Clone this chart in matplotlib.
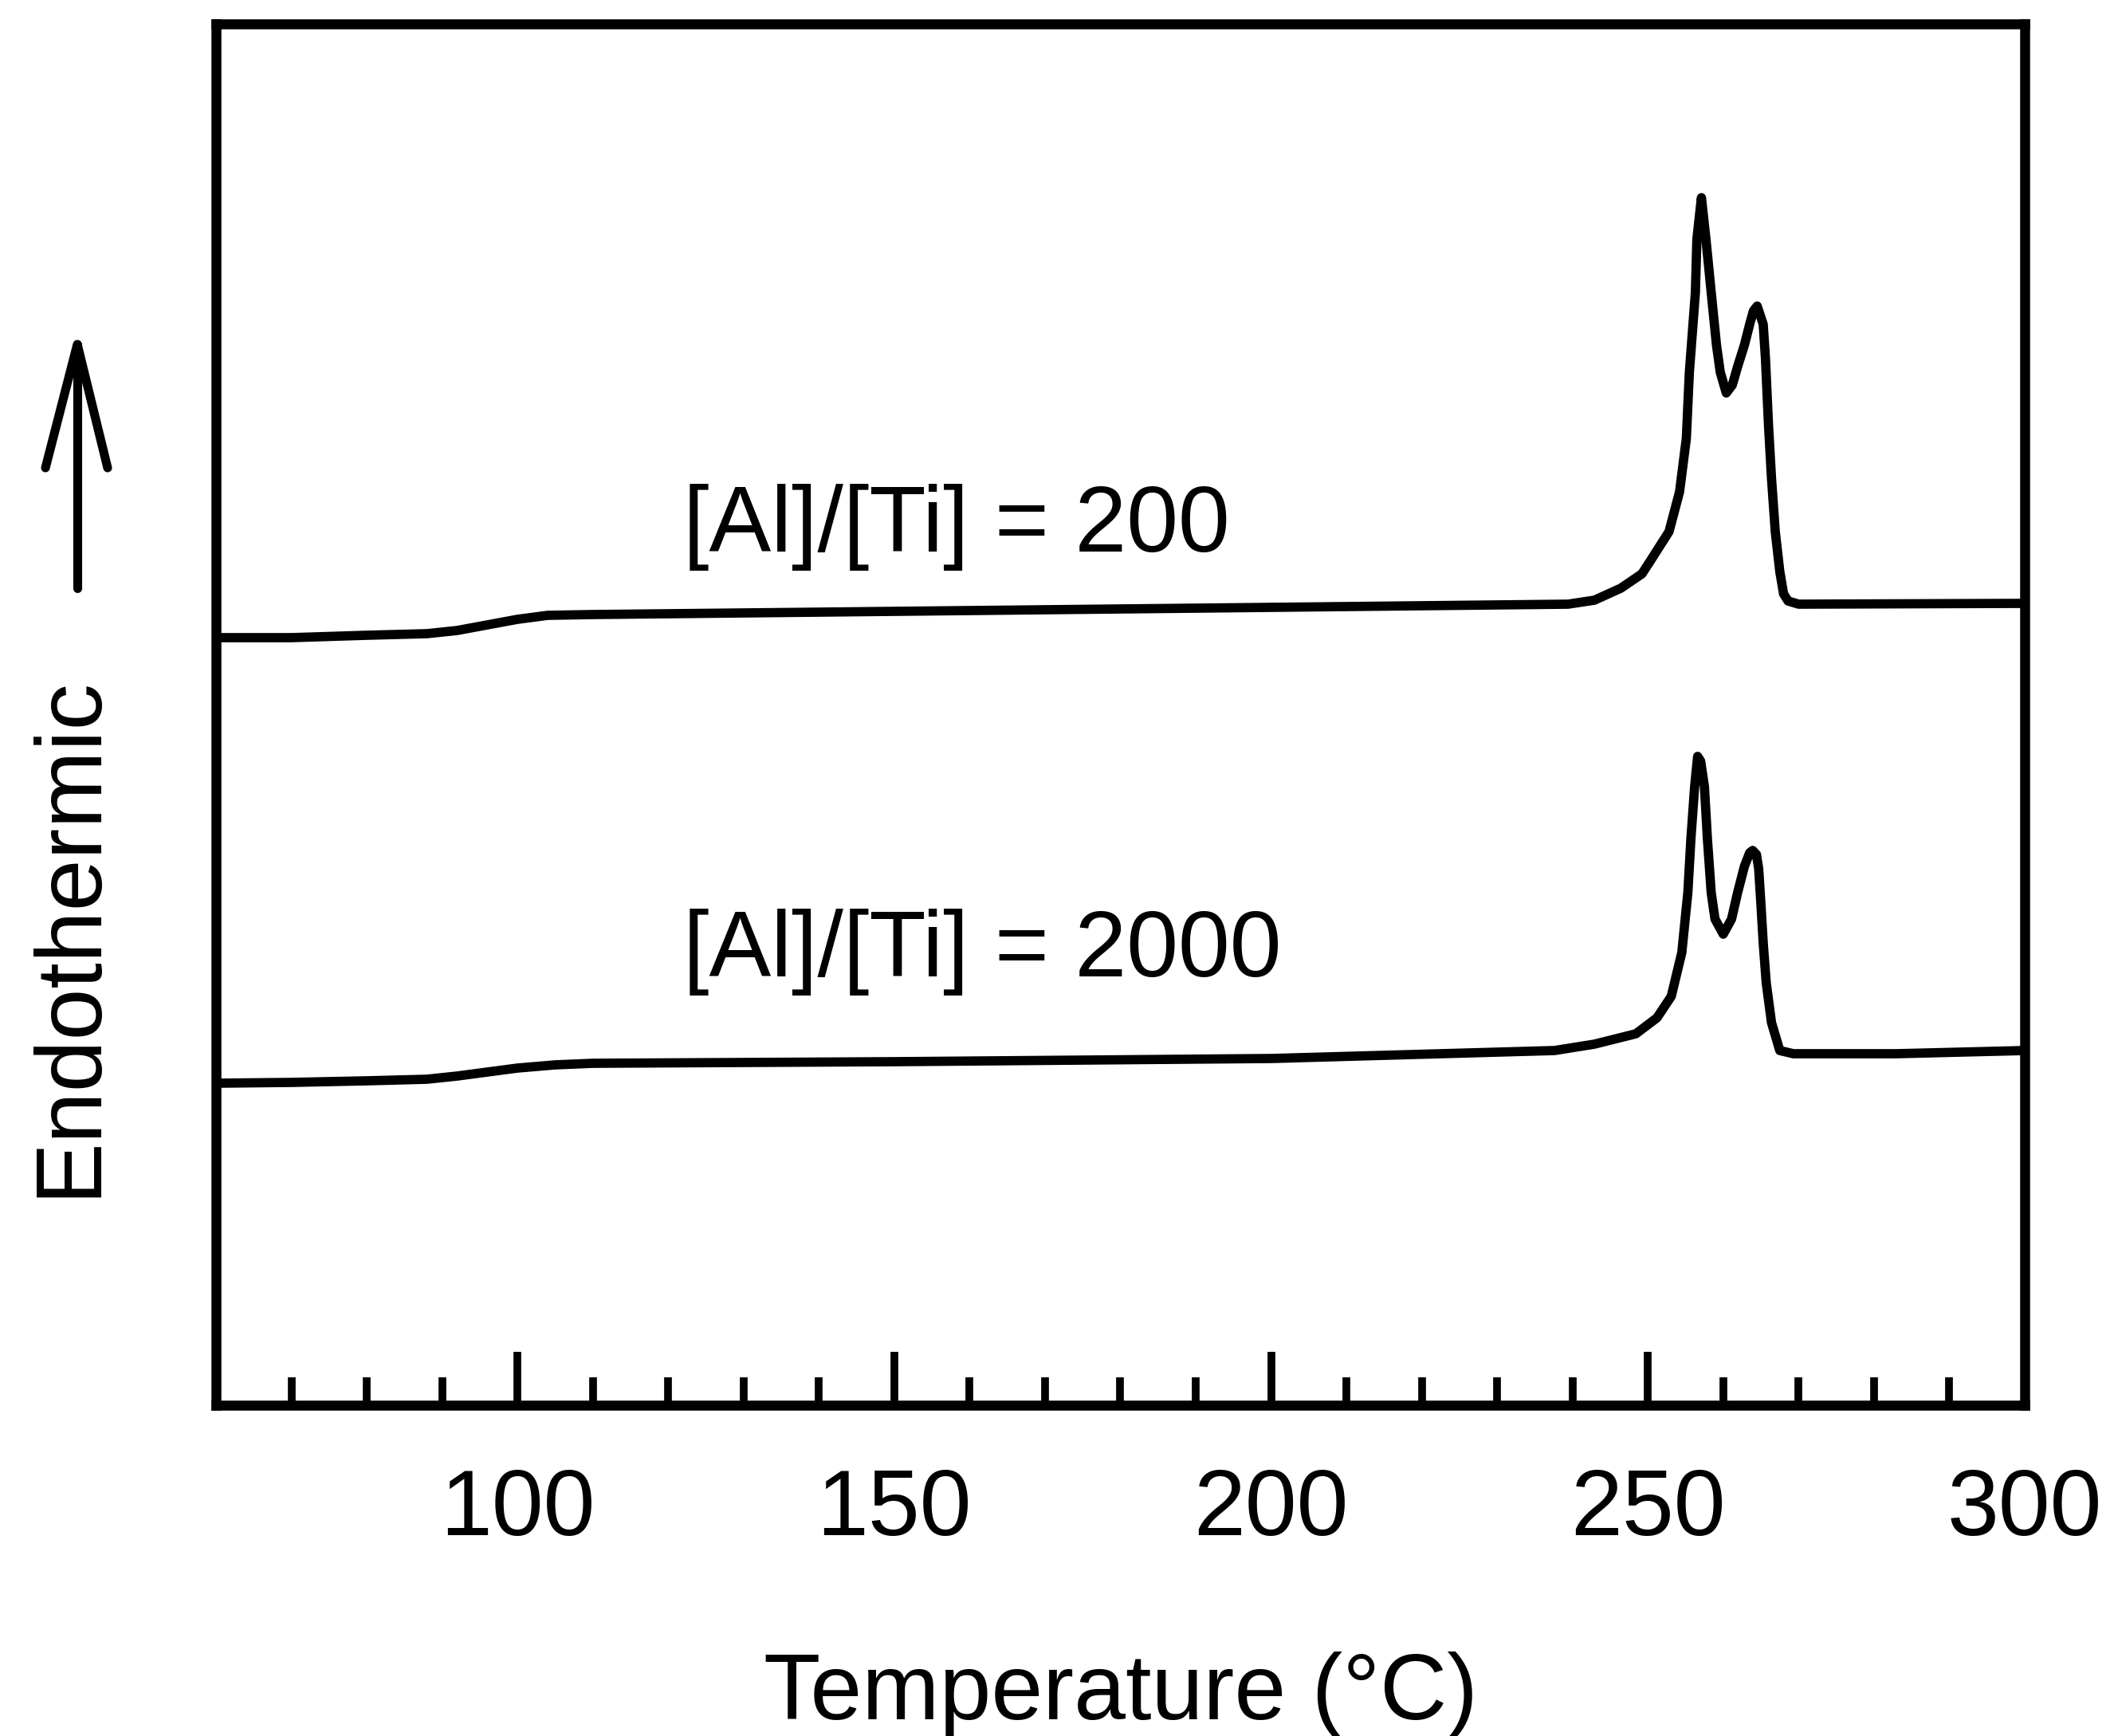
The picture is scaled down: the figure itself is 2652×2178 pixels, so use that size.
import matplotlib
matplotlib.use("Agg")
import matplotlib.pyplot as plt
from matplotlib.lines import Line2D
from matplotlib.ticker import MultipleLocator

plt.rcParams['font.family'] = ['Liberation Sans', 'DejaVu Sans']

# DSC traces (heat flow in arbitrary units)
temp_200 = [60, 70, 80, 88, 92, 96, 100, 104, 110, 150, 200, 239.4, 242.9,
            246.4, 249.2, 250.1, 252.8, 254.2, 255.1, 255.5, 256.3, 256.5,
            257.1, 257.7, 258.4, 259.1, 259.6, 260.4, 261.2, 261.9, 262.8,
            263.5, 264.0, 264.5, 265.3, 265.6, 266.0, 266.4, 266.9, 267.5,
            268.0, 268.6, 270, 300]
dsc_200 = [9.63, 9.63, 9.66, 9.68, 9.72, 9.79, 9.86, 9.91, 9.92, 9.96, 10.01,
           10.05, 10.10, 10.25, 10.43, 10.56, 10.96, 11.46, 12.13, 12.96, 13.96,
           14.63, 15.15, 14.63, 13.96, 13.30, 12.96, 12.70, 12.80, 13.03, 13.30,
           13.56, 13.73, 13.79, 13.56, 13.13, 12.30, 11.63, 10.96, 10.46, 10.18,
           10.09, 10.05, 10.06]

temp_2000 = [60, 70, 80, 88, 92, 96, 100, 105, 110, 150, 200, 237.6, 242.9,
             248.4, 251.2, 253.1, 254.5, 255.3, 255.7, 256.2, 256.6, 257.0,
             257.5, 257.9, 258.4, 258.9, 260.0, 261.1, 261.9, 262.8, 263.5,
             263.9, 264.4, 264.7, 265.0, 265.3, 265.7, 266.4, 267.5, 269.3,
             283, 300]
dsc_2000 = [4.04, 4.05, 4.07, 4.09, 4.13, 4.18, 4.23, 4.27, 4.29, 4.31, 4.35,
            4.45, 4.53, 4.66, 4.86, 5.13, 5.68, 6.43, 7.10, 7.76, 8.14, 8.08,
            7.76, 7.10, 6.43, 6.10, 5.91, 6.10, 6.43, 6.76, 6.93, 6.96, 6.91,
            6.73, 6.28, 5.80, 5.30, 4.80, 4.45, 4.41, 4.41, 4.45]

labels = ['[Al]/[Ti] = 200', '[Al]/[Ti] = 2000']
label_pos = [(122.0, 10.71), (122.0, 5.38)]

W, H = 2652, 2178
fig = plt.figure(figsize=(W / 200, H / 200), dpi=200)
ax = fig.add_axes([271 / W, 1 - 1763 / H, (2540 - 271) / W, (1763 - 30) / H])

ax.plot(temp_200, dsc_200, color='black', lw=4.2, solid_joinstyle='round')
ax.plot(temp_2000, dsc_2000, color='black', lw=4.2, solid_joinstyle='round')

for txt, (x, y) in zip(labels, label_pos):
    ax.text(x, y, txt, fontsize=42, ha='left', va='baseline')

ax.set_xlim(60, 300)
ax.set_ylim(0, 17.33)
ax.set_yticks([])
ax.xaxis.set_major_locator(MultipleLocator(50))
ax.xaxis.set_minor_locator(MultipleLocator(10))
ax.tick_params(axis='x', which='both', direction='in', width=3.5,
               labelsize=42, pad=28)
ax.tick_params(axis='x', which='major', length=24)
ax.tick_params(axis='x', which='minor', length=12.6)
for s in ax.spines.values():
    s.set_linewidth(4.5)

fig.text(0.5 * (271 + 2540) / W, 1 - 2157 / H, 'Temperature (°C)',
         fontsize=42, ha='center', va='baseline')
fig.text(88 / W, 1 - 1175 / H, 'Endothermic', fontsize=42, rotation=90,
         ha='center', va='center')

# "endothermic up" arrow beside the y label
ax_x = 97 / W
tip_y = 1 - 432 / H
wing_y = 1 - 587 / H
for xs, ys in [([ax_x, ax_x], [1 - 738 / H, tip_y]),
               ([57 / W, ax_x, 135 / W], [wing_y, tip_y, wing_y])]:
    fig.add_artist(Line2D(xs, ys, transform=fig.transFigure, color='black',
                          lw=4.0, solid_joinstyle='round',
                          solid_capstyle='round'))

fig.savefig('out.png', dpi=200)
